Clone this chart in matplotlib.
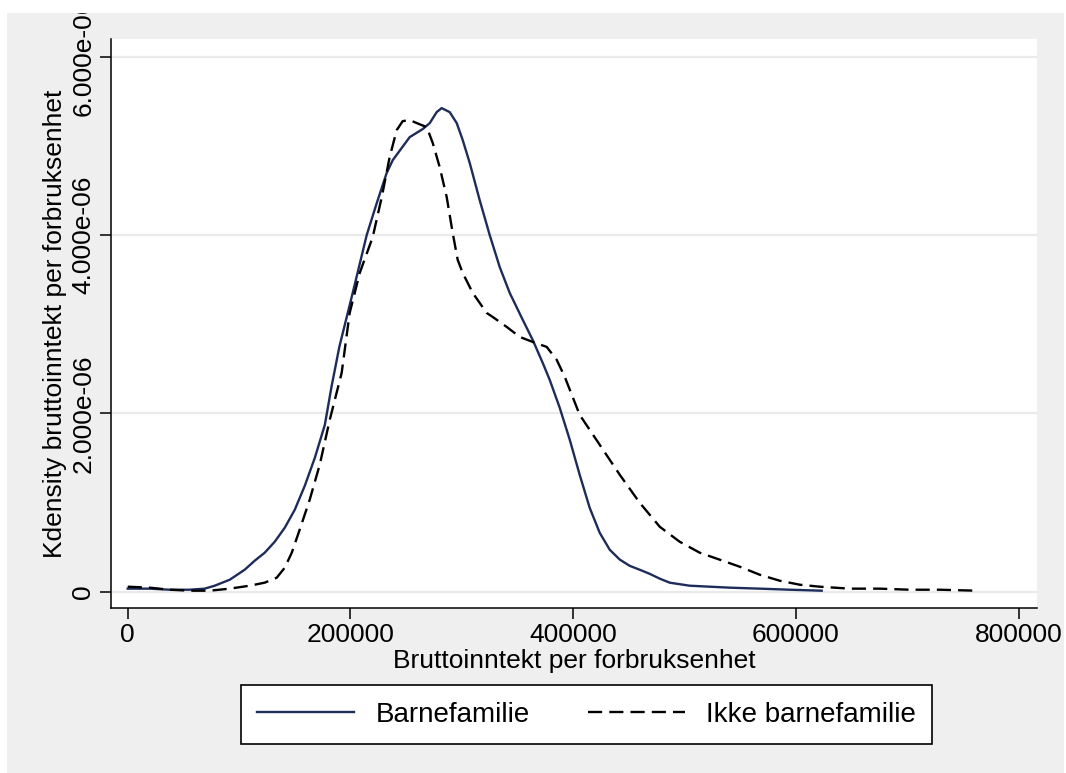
# kdensity_bruttoinntekt.py
import matplotlib
matplotlib.use('Agg')
import matplotlib.pyplot as plt
from matplotlib.patches import Rectangle
import numpy as np

plt.rcParams['font.family'] = ['Liberation Sans', 'DejaVu Sans']

# Kernel density of gross income per consumption unit (density in 1e-6)
barn_x = [0, 19750, 37700, 55700, 69100, 78100, 91600, 105000, 114000, 123000,
          132000, 141000, 150000, 159000, 168000, 177000, 183000, 190000, 202000,
          214600, 223600, 232500, 238000, 253200, 264900, 271200, 277400, 281900,
          289100, 295400, 300800, 307100, 316000, 325000, 334000, 343000, 354700,
          363600, 372600, 378900, 387900, 396900, 405800, 414800, 423800, 432800,
          441800, 450700, 459700, 468700, 477700, 486600, 504600, 522600, 540500,
          567500, 594400, 623100]
barn_y = [0.034, 0.034, 0.022, 0.022, 0.034, 0.067, 0.134, 0.246, 0.347, 0.437,
          0.560, 0.717, 0.919, 1.188, 1.501, 1.871, 2.300, 2.745, 3.350,
          4.000, 4.358, 4.695, 4.840, 5.098, 5.188, 5.255, 5.378, 5.423,
          5.378, 5.255, 5.064, 4.807, 4.392, 4.000, 3.641, 3.350, 3.048,
          2.824, 2.566, 2.375, 2.062, 1.703, 1.311, 0.940, 0.660, 0.470,
          0.360, 0.290, 0.246, 0.200, 0.146, 0.101, 0.067, 0.056, 0.045,
          0.034, 0.022, 0.011]

ikke_x = [0, 19750, 37700, 55700, 73600, 91600, 109500, 123000, 133800, 141000,
          147300, 154400, 163400, 172400, 181400, 192100, 199300, 208300, 220000,
          228100, 235200, 241500, 246900, 253200, 259500, 268500, 273900, 280100,
          286400, 291800, 296300, 300800, 309800, 322300, 327700, 340300, 352000,
          363600, 376200, 385200, 392400, 405800, 423800, 441800, 459700, 477700,
          495600, 513600, 531500, 549500, 567500, 585400, 603400, 621300, 648300,
          675200, 702100, 729100, 762300]
ikke_y = [0.056, 0.045, 0.022, 0.011, 0.011, 0.034, 0.067, 0.101, 0.157, 0.269,
          0.437, 0.695, 1.031, 1.423, 1.927, 2.454, 3.126, 3.574, 3.978,
          4.426, 4.874, 5.176, 5.277, 5.289, 5.255, 5.210, 5.031, 4.762,
          4.426, 4.022, 3.720, 3.574, 3.350, 3.126, 3.081, 2.969, 2.857,
          2.801, 2.745, 2.599, 2.409, 1.983, 1.647, 1.311, 0.997, 0.728,
          0.560, 0.437, 0.359, 0.280, 0.190, 0.123, 0.078, 0.056, 0.034,
          0.034, 0.022, 0.022, 0.011]

x_ticks = [0, 200000, 400000, 600000, 800000]
y_ticks = [0, 2e-6, 4e-6, 6e-6]
y_tick_labels = ['0', '2.000e-06', '4.000e-06', '6.000e-06']

W, H = 1066, 773
fig = plt.figure(figsize=(W / 100, H / 100), dpi=100)
fig.patch.set_facecolor('white')
# gray graph region
fig.patches.append(Rectangle((7 / W, -0.01), (1064 - 7) / W, 1.01 - 13 / H,
                             transform=fig.transFigure, facecolor='#EFEFEF',
                             edgecolor='none', zorder=-5))

ax = fig.add_axes([111 / W, 1 - 608 / H, (1037 - 111) / W, (608 - 39) / H])
ax.set_facecolor('white')

navy = '#1E2C5A'
l1, = ax.plot(barn_x, np.array(barn_y) * 1e-6, color=navy, lw=1.7,
              label='Barnefamilie')
l2, = ax.plot(ikke_x, np.array(ikke_y) * 1e-6, color='black', lw=1.7,
              dashes=(6, 3), label='Ikke barnefamilie')

ax.set_xlim(-15000, 816400)
ax.set_ylim(-0.183e-6, 6.198e-6)

ax.set_xticks(x_ticks)
ax.set_xticklabels([str(v) for v in x_ticks])
ax.set_yticks(y_ticks)
ax.set_yticklabels(y_tick_labels, rotation=90, va='center')

ax.yaxis.grid(True, color='#EAEAEA', lw=1.6)
ax.set_axisbelow(True)

for s in ['top', 'right']:
    ax.spines[s].set_visible(False)
for s in ['left', 'bottom']:
    ax.spines[s].set_linewidth(1.1)
    ax.spines[s].set_color('black')

ax.tick_params(axis='both', direction='out', length=8, width=1.1,
               labelsize=19, colors='black')
ax.tick_params(axis='y', pad=3.3)
ax.tick_params(axis='x', pad=3)

ax.set_xlabel('Bruttoinntekt per forbruksenhet', fontsize=19, labelpad=1)
ax.set_ylabel('Kdensity bruttoinntekt per forbruksenhet', fontsize=19)
ax.yaxis.set_label_coords(-0.047, 0.5)

leg = fig.legend(handles=[l1, l2], loc='center',
                 bbox_to_anchor=(586.5 / W, 1 - 714.5 / H),
                 ncol=2, fontsize=20, frameon=True, fancybox=False,
                 handlelength=3.5, handletextpad=0.75, columnspacing=2.1,
                 borderpad=0.6, borderaxespad=0)
leg.get_frame().set_edgecolor('black')
leg.get_frame().set_linewidth(1.2)
leg.get_frame().set_facecolor('white')
leg.get_frame().set_alpha(1)

# white margin on top clipping the tall tick label
fig.patches.append(Rectangle((0, 1 - 13 / H), 1, 13 / H,
                             transform=fig.transFigure, facecolor='white',
                             edgecolor='none', zorder=10))

fig.savefig('out.png', dpi=100, facecolor=fig.get_facecolor())
